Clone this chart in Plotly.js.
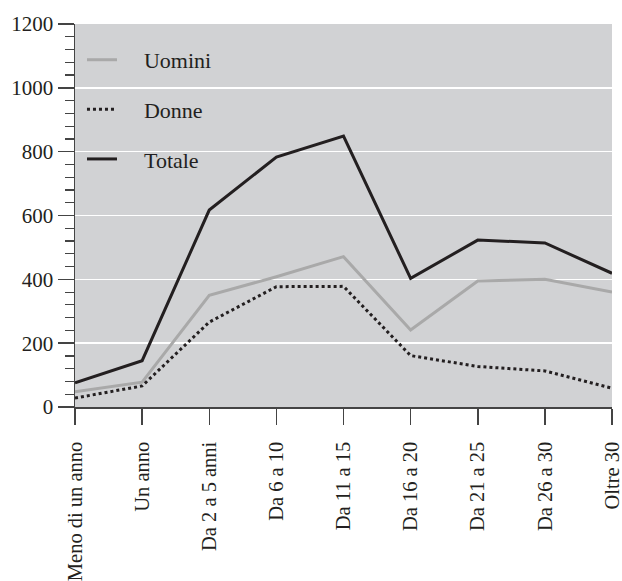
<!DOCTYPE html>
<html>
<head>
<meta charset="utf-8">
<script src="https://cdn.plot.ly/plotly-3.0.1.min.js"></script>
<style>body{margin:0;padding:0;background:#fff}#chart{width:622px;height:581px}</style>
</head>
<body>
<div id="chart"></div>
<script>
var categories = ["Meno di un anno","Un anno","Da 2 a 5 anni","Da 6 a 10","Da 11 a 15","Da 16 a 20","Da 21 a 25","Da 26 a 30","Oltre 30"];
var uomini = [48, 78, 350, 408, 471, 241, 395, 400, 360];
var donne = [28, 66, 266, 377, 378, 161, 127, 113, 59];
var totale = [76, 145, 617, 783, 849, 403, 523, 514, 419];
var seriesNames = ["Uomini", "Donne", "Totale"];
var yTicks = [0, 200, 400, 600, 800, 1000, 1200];

var family = "'Liberation Serif', 'Times New Roman', serif";
var ink = "#231f20";
var pad = "\u00a0\u00a0\u00a0\u00a0";

var traces = [
  {x: categories, y: uomini, name: pad + seriesNames[0], mode: "lines", legendgroup: "a",
   line: {color: "#a9a9a9", width: 3}},
  {x: categories, y: donne, name: pad + seriesNames[1], mode: "lines", legendgroup: "b",
   line: {color: ink, width: 3, dash: "dot"}},
  {x: categories, y: totale, name: pad + seriesNames[2], mode: "lines", legendgroup: "c",
   line: {color: ink, width: 3}}
];

var layout = {
  width: 622, height: 581,
  margin: {l: 75, r: 10, t: 24, b: 174},
  paper_bgcolor: "#ffffff",
  plot_bgcolor: "#d1d2d4",
  font: {family: family, size: 21, color: ink},
  showlegend: true,
  legend: {x: 0.013, y: 0.961, xanchor: "left", yanchor: "top",
    bgcolor: "rgba(0,0,0,0)", font: {family: family, size: 22, color: ink},
    traceorder: "grouped", tracegroupgap: 18, itemwidth: 30},
  xaxis: {
    type: "category", range: [0, 8], showgrid: false, zeroline: false,
    showline: true, linecolor: "#444", linewidth: 1.5,
    ticks: "outside", ticklen: 16, tickwidth: 1.5, tickcolor: "#444",
    tickangle: -90, ticklabelstandoff: 9,
    tickfont: {family: family, size: 20.5, color: ink}
  },
  yaxis: {
    range: [0, 1200], tickvals: yTicks, ticktext: yTicks.map(String),
    showgrid: true, gridcolor: "#ffffff", gridwidth: 1.5, zeroline: false,
    showline: true, linecolor: "#444", linewidth: 1.5,
    ticks: "outside", ticklen: 16, tickwidth: 1.5, tickcolor: "#444",
    tickfont: {family: family, size: 21, color: ink},
    minor: {dtick: 40, ticks: "outside", ticklen: 9, tickwidth: 1.2, tickcolor: "#444", showgrid: false}
  }
};

Plotly.newPlot("chart", traces, layout, {displayModeBar: false, staticPlot: true});
</script>
</body>
</html>
